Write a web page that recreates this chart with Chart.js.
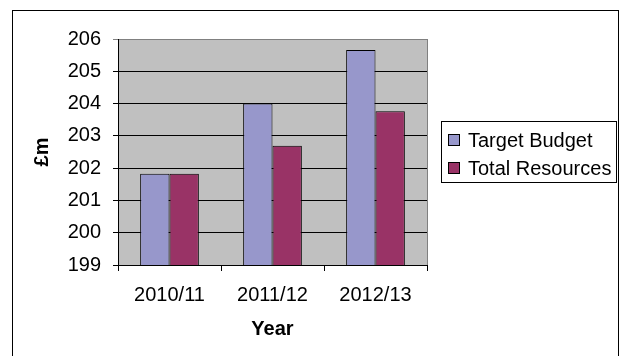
<!DOCTYPE html>
<html>
<head>
<meta charset="utf-8">
<script src="https://cdn.jsdelivr.net/npm/chart.js@4"></script>
<style>
  html, body { margin: 0; padding: 0; background: #fff; }
  #wrap { width: 624px; height: 356px; position: relative; }
</style>
</head>
<body>
<div id="wrap"><canvas id="budgetChart"></canvas></div>
<script>
// Data
const years = ["2010/11", "2011/12", "2012/13"];
const targetBudget = [201.83, 204.0, 205.66];
const totalResources = [201.83, 202.69, 203.76];
const yMin = 199;
const yMax = 206;
const yStep = 1;

const FONT = "'Liberation Sans', Arial, sans-serif";
const canvas = document.getElementById("budgetChart");

// Grey plot area behind the bars
const plotBackground = {
    id: "plotBackground",
    beforeDraw(chart) {
        const { ctx, chartArea: a } = chart;
        ctx.save();
        ctx.fillStyle = "#c0c0c0";
        ctx.fillRect(a.left, a.top, a.right - a.left, a.bottom - a.top);
        ctx.restore();
    }
};

// Outer frame, plot border and the boxed legend
const frameAndLegend = {
    id: "frameAndLegend",
    afterDraw(chart) {
        const { ctx, chartArea: a } = chart;
        ctx.save();

        // right edge of plot area
        ctx.strokeStyle = "#808080";
        ctx.lineWidth = 1;
        ctx.beginPath();
        ctx.moveTo(Math.round(a.right) + 0.5, a.top);
        ctx.lineTo(Math.round(a.right) + 0.5, a.bottom);
        ctx.stroke();

        // outer chart frame (bottom runs off the picture)
        ctx.strokeStyle = "#000";
        ctx.strokeRect(12.5, 10.5, 606, 400);

        // legend box
        ctx.strokeRect(441.5, 121.5, 175, 61);
        ctx.font = "20px " + FONT;
        ctx.textBaseline = "middle";
        ctx.textAlign = "left";
        chart.data.datasets.forEach((ds, i) => {
            const y = 140 + i * 28;
            ctx.fillStyle = ds.backgroundColor;
            ctx.fillRect(449, y - 5, 10, 10);
            ctx.strokeStyle = "#000";
            ctx.strokeRect(448.5, y - 5.5, 11, 11);
            ctx.fillStyle = "#000";
            ctx.fillText(ds.label, 468, y + 1);
        });
        ctx.restore();
    }
};

new Chart(canvas, {
    type: "bar",
    data: {
        labels: years,
        datasets: [
            {
                label: "Target Budget",
                data: targetBudget,
                backgroundColor: "#9797cb",
                borderColor: "#000",
                borderWidth: 1,
                categoryPercentage: 0.57,
                barPercentage: 1.0
            },
            {
                label: "Total Resources",
                data: totalResources,
                backgroundColor: "#993366",
                borderColor: "#000",
                borderWidth: 1,
                categoryPercentage: 0.57,
                barPercentage: 1.0
            }
        ]
    },
    options: {
        responsive: true,
        maintainAspectRatio: false,
        animation: false,
        layout: { padding: { left: 0, right: 197, top: 39, bottom: 0 } },
        plugins: {
            legend: { display: false },
            tooltip: { enabled: false }
        },
        scales: {
            x: {
                grid: {
                    display: true,
                    drawOnChartArea: false,
                    offset: true,
                    tickLength: 6,
                    color: "#000"
                },
                border: { color: "#000", width: 1 },
                ticks: {
                    color: "#000",
                    padding: 12,
                    font: { family: FONT, size: 20 }
                },
                title: {
                    display: true,
                    text: "Year",
                    color: "#000",
                    font: { family: FONT, size: 20, weight: "bold" },
                    padding: { top: 0, bottom: 15 }
                },
                afterFit(scale) { scale.height = 91; }
            },
            y: {
                min: yMin,
                max: yMax,
                ticks: {
                    stepSize: yStep,
                    color: "#000",
                    padding: 12,
                    font: { family: FONT, size: 20 }
                },
                grid: {
                    tickLength: 5,
                    color: (c) => (c.tick && c.tick.value === yMax ? "#808080" : "#000")
                },
                border: { color: "#000", width: 1 },
                title: {
                    display: true,
                    text: "£m",
                    color: "#000",
                    font: { family: FONT, size: 20, weight: "bold" },
                    padding: { top: 30, bottom: 0 }
                },
                afterFit(scale) { scale.width = 118; }
            }
        }
    },
    plugins: [plotBackground, frameAndLegend]
});
</script>
</body>
</html>
